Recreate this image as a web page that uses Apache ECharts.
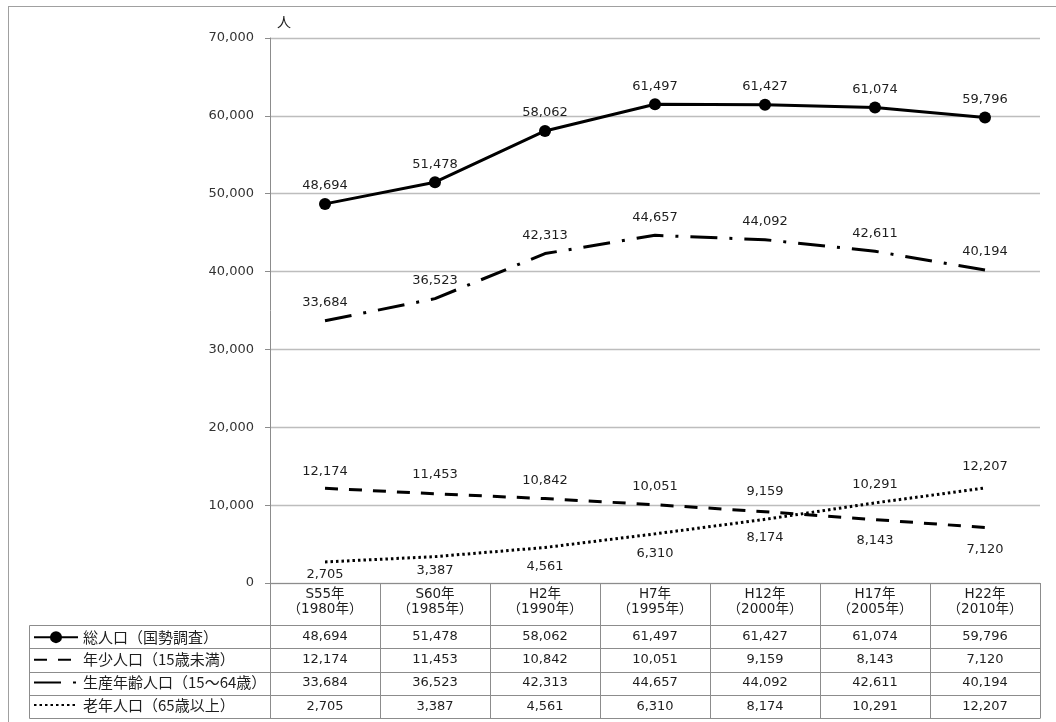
<!DOCTYPE html>
<html>
<head>
<meta charset="utf-8">
<script src="https://cdn.jsdelivr.net/npm/echarts@6/dist/echarts.min.js"></script>
<style>
  html, body { margin: 0; padding: 0; background: #fff; }
  #chart { width: 1056px; height: 722px; }
</style>
</head>
<body>
<div id="chart"></div>
<script>
// 人口推移（国勢調査）
const categories = ['S55年\n（1980年）', 'S60年\n（1985年）', 'H2年\n（1990年）', 'H7年\n（1995年）',
                    'H12年\n（2000年）', 'H17年\n（2005年）', 'H22年\n（2010年）'];
const seriesNames = ['総人口（国勢調査）', '年少人口（15歳未満）', '生産年齢人口（15～64歳）', '老年人口（65歳以上）'];
const totalPop   = [48694, 51478, 58062, 61497, 61427, 61074, 59796];
const youthPop   = [12174, 11453, 10842, 10051, 9159, 8143, 7120];
const workingPop = [33684, 36523, 42313, 44657, 44092, 42611, 40194];
const elderlyPop = [2705, 3387, 4561, 6310, 8174, 10291, 12207];
const yTicks = { min: 0, max: 70000, interval: 10000 };

// vertical shift (px) of each value label from its point; negative = above
const youthLabelDy   = [-17, -19, -18, -18, -20, 21, 22];
const elderlyLabelDy = [13, 14, 19, 20, 18, -18, -21];

// layout
const W = 1056, H = 722;
const GRID = { left: 270, right: 16, top: 38, bottom: 139 };
const AXIS_Y = H - GRID.bottom;            // 583
const HEADER_BOTTOM = 625;
const TABLE_BOTTOM = 718;
const ROW_H = (TABLE_BOTTOM - HEADER_BOTTOM) / 4;
const TABLE_LEFT = 29;
const TABLE_RIGHT = W - GRID.right;
const LEGEND_ITEM_H = 15;

const NUM_FONT = "'DejaVu Sans', 'Noto Sans CJK JP', sans-serif";
const JP_FONT = "'Noto Sans CJK JP', sans-serif";
const LINE_GRAY = '#8c8c8c';
const TEXT = '#1e1e1e';

const fmt = v => v.toLocaleString('en-US');

function withOffsets(values, dys) {
  return values.map((v, i) => ({ value: v, label: { offset: [0, dys[i]] } }));
}

const valueLabel = {
  show: true,
  position: 'inside',
  offset: [0, -18],
  formatter: p => fmt(p.value),
  fontFamily: NUM_FONT,
  fontSize: 13,
  color: TEXT
};

const hiddenSymbol = {
  symbol: 'circle',
  symbolSize: 1,
  itemStyle: { color: 'rgba(0,0,0,0)' }
};

// table rows under the axis: one extra category axis per row
const tableRows = [totalPop, youthPop, workingPop, elderlyPop];
const rowAxes = tableRows.map((row, k) => ({
  type: 'category',
  gridIndex: 0,
  position: 'bottom',
  offset: HEADER_BOTTOM + k * ROW_H - AXIS_Y,
  data: categories,
  axisLine: { show: false },
  axisTick: { show: false },
  splitLine: { show: false },
  axisLabel: {
    interval: 0,
    margin: 5,
    formatter: (v, i) => fmt(row[i]),
    fontFamily: NUM_FONT,
    fontSize: 13,
    color: TEXT
  }
}));

// table rules and outer frame
const graphics = [];
function hline(x1, x2, y, color) {
  graphics.push({ type: 'line', silent: true,
    shape: { x1: x1, y1: y, x2: x2, y2: y },
    style: { stroke: color, lineWidth: 1 } });
}
function vline(x, y1, y2, color) {
  graphics.push({ type: 'line', silent: true,
    shape: { x1: x, y1: y1, x2: x, y2: y2 },
    style: { stroke: color, lineWidth: 1 } });
}
for (let k = 0; k <= 4; k++) {
  const y = Math.round(HEADER_BOTTOM + k * ROW_H) + 0.5;
  hline(TABLE_LEFT + 0.5, TABLE_RIGHT + 0.5, y, LINE_GRAY);
}
vline(TABLE_LEFT + 0.5, HEADER_BOTTOM + 0.5, TABLE_BOTTOM + 0.5, LINE_GRAY);
// outer frame
hline(8, W, 6.5, '#a0a0a0');
vline(8.5, 6, H, '#a0a0a0');

const chart = echarts.init(document.getElementById('chart'), null, { renderer: 'canvas' });
chart.setOption({
  animation: false,
  backgroundColor: '#fff',
  grid: GRID,
  legend: {
    orient: 'vertical',
    left: 33,
    top: HEADER_BOTTOM + (ROW_H - LEGEND_ITEM_H) / 2 + 0.5,
    height: 120,
    padding: 0,
    itemWidth: 44,
    itemHeight: LEGEND_ITEM_H,
    itemGap: ROW_H - LEGEND_ITEM_H - 0.6,
    textStyle: { fontFamily: JP_FONT, fontSize: 15, color: TEXT, lineHeight: LEGEND_ITEM_H },
    data: seriesNames
  },
  xAxis: [{
    type: 'category',
    data: categories,
    boundaryGap: true,
    axisLine: { show: true, lineStyle: { color: LINE_GRAY, width: 1 } },
    axisTick: { show: true, interval: 0, length: TABLE_BOTTOM - AXIS_Y, lineStyle: { color: LINE_GRAY } },
    axisLabel: {
      interval: 0,
      margin: 4,
      lineHeight: 15,
      fontFamily: NUM_FONT,
      fontSize: 13.5,
      color: TEXT
    },
    splitLine: { show: false }
  }].concat(rowAxes),
  yAxis: {
    type: 'value',
    min: yTicks.min,
    max: yTicks.max,
    interval: yTicks.interval,
    name: '人',
    nameLocation: 'end',
    nameGap: 9,
    nameTextStyle: { fontFamily: JP_FONT, fontSize: 14, color: TEXT, align: 'left', padding: [0, 0, 0, 7] },
    axisLine: { show: true, lineStyle: { color: LINE_GRAY } },
    axisTick: { show: true, length: 5, lineStyle: { color: LINE_GRAY } },
    axisLabel: {
      margin: 16,
      formatter: v => fmt(v),
      fontFamily: NUM_FONT,
      fontSize: 13,
      color: '#333'
    },
    splitLine: { show: true, lineStyle: { color: '#bdbdbd', width: 1.3 } }
  },
  series: [
    {
      name: seriesNames[0],
      type: 'line',
      data: totalPop,
      symbol: 'circle',
      symbolSize: 12,
      itemStyle: { color: '#000' },
      lineStyle: { color: '#000', width: 3 },
      label: valueLabel,
      z: 5
    },
    Object.assign({
      name: seriesNames[1],
      type: 'line',
      data: withOffsets(youthPop, youthLabelDy),
      lineStyle: { color: '#000', width: 3, type: [13, 11], cap: 'butt' },
      label: valueLabel
    }, hiddenSymbol),
    Object.assign({
      name: seriesNames[2],
      type: 'line',
      data: workingPop,
      lineStyle: { color: '#000', width: 3, type: [27, 12, 3, 12], cap: 'butt' },
      label: valueLabel
    }, hiddenSymbol),
    Object.assign({
      name: seriesNames[3],
      type: 'line',
      data: withOffsets(elderlyPop, elderlyLabelDy),
      lineStyle: { color: '#000', width: 3, type: [2.5, 3], cap: 'butt' },
      label: valueLabel
    }, hiddenSymbol)
  ],
  graphic: graphics
});
</script>
</body>
</html>
